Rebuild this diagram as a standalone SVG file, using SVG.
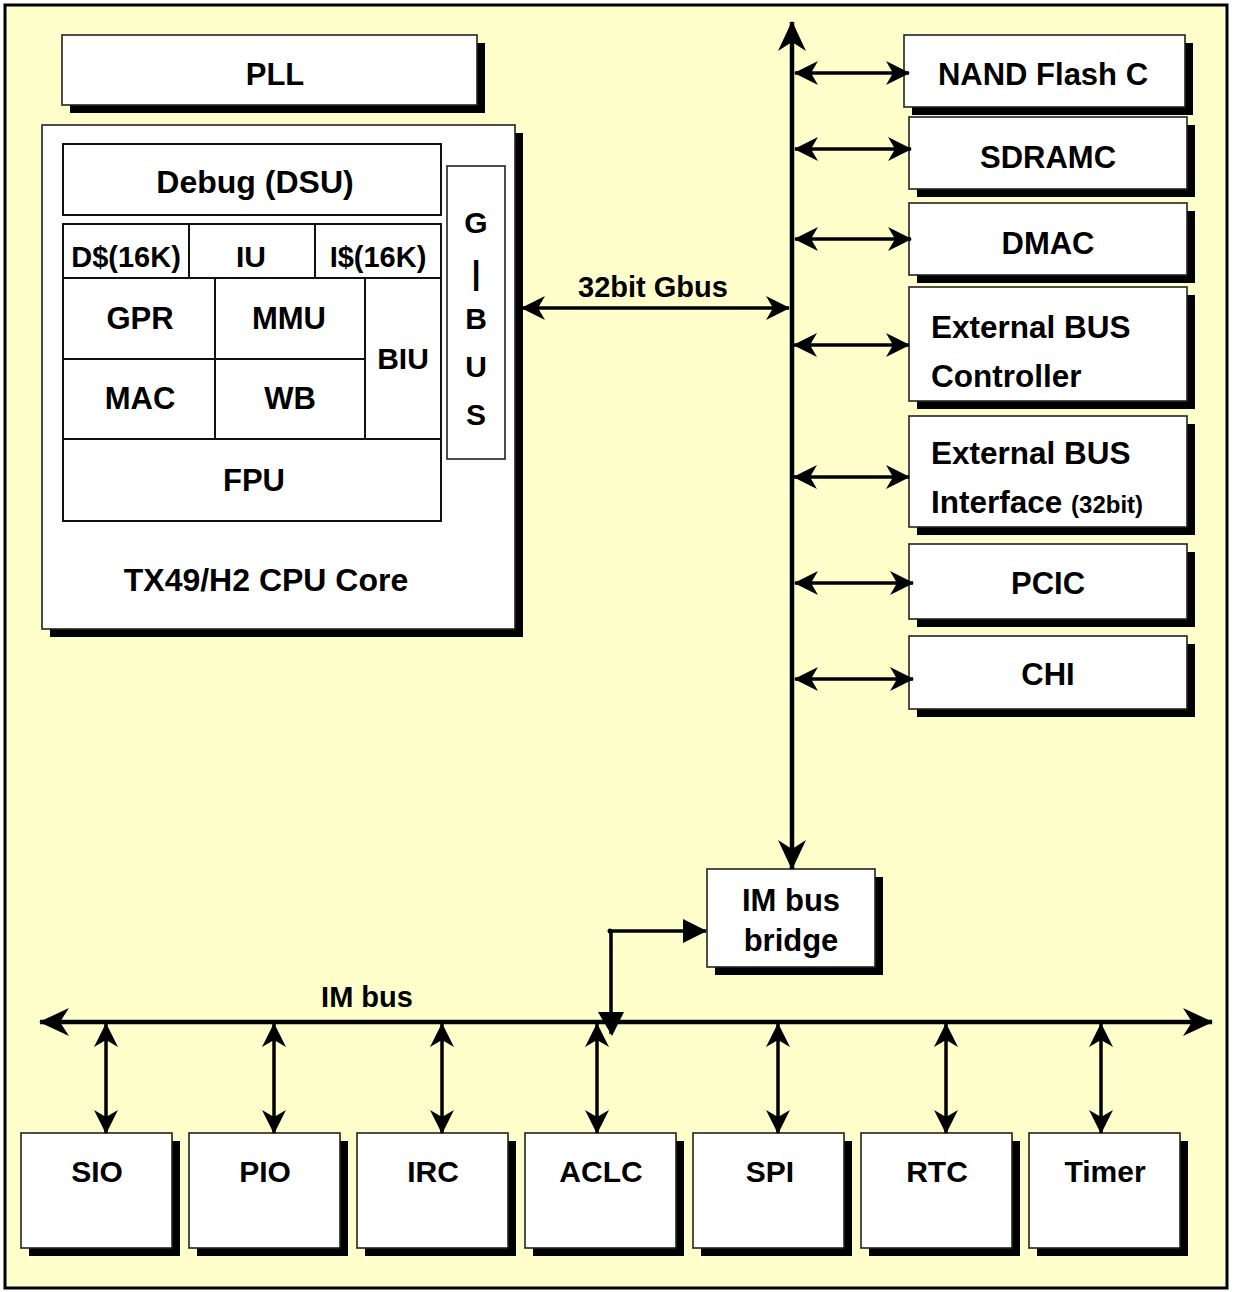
<svg xmlns="http://www.w3.org/2000/svg" width="1233" height="1292" viewBox="0 0 1233 1292">
<defs>
<style>
.box{fill:#fff;stroke:#222;stroke-width:1.6}
.cell{fill:#fff;stroke:#111;stroke-width:2}
.sh{fill:#000}
text{font-family:"Liberation Sans",Arial,Helvetica,sans-serif;font-weight:bold;fill:#000}
.c{text-anchor:middle}
.ln{stroke:#000;fill:none}
</style>
<marker id="st" viewBox="0 0 24 24" refX="23" refY="12" markerWidth="24" markerHeight="24" markerUnits="userSpaceOnUse" orient="auto-start-reverse">
<path d="M0,0 L24,12 L0,24 L7,12 Z" fill="#000"/>
</marker>
<marker id="stL" viewBox="0 0 30 28" refX="29" refY="14" markerWidth="30" markerHeight="28" markerUnits="userSpaceOnUse" orient="auto-start-reverse">
<path d="M0,0 L30,14 L0,28 L9,14 Z" fill="#000"/>
</marker>
<marker id="tri" viewBox="0 0 24 24" refX="23" refY="12" markerWidth="24" markerHeight="24" markerUnits="userSpaceOnUse" orient="auto">
<path d="M0,0 L24,12 L0,24 Z" fill="#000"/>
</marker>
</defs>
<rect x="5" y="5" width="1222" height="1283" fill="#FFFFCC" stroke="#000" stroke-width="3"/>

<g id="pll">
<rect class="sh" x="70" y="43" width="415" height="70"/>
<rect class="box" x="62" y="35" width="415" height="70"/>
<text class="c" x="275" y="85" font-size="31">PLL</text>
</g>

<g id="cpu-core">
<rect class="sh" x="50" y="133" width="473" height="504"/>
<rect class="box" x="42" y="125" width="473" height="504"/>
<text class="c" x="266" y="591" font-size="32">TX49/H2 CPU Core</text>
</g>
<g id="debug">
<rect class="cell" x="63" y="144" width="378" height="71"/>
<text class="c" x="255" y="193" font-size="32">Debug (DSU)</text>
</g>
<g id="dcache">
<rect class="cell" x="63" y="224" width="126" height="54"/>
<text class="c" x="126" y="267" font-size="29">D$(16K)</text>
</g>
<g id="iu">
<rect class="cell" x="189" y="224" width="126" height="54"/>
<text class="c" x="251" y="267" font-size="30">IU</text>
</g>
<g id="icache">
<rect class="cell" x="315" y="224" width="126" height="54"/>
<text class="c" x="378" y="267" font-size="29">I$(16K)</text>
</g>
<g id="gpr">
<rect class="cell" x="63" y="278" width="152" height="81"/>
<text class="c" x="140" y="329" font-size="31">GPR</text>
</g>
<g id="mmu">
<rect class="cell" x="215" y="278" width="150" height="81"/>
<text class="c" x="289" y="329" font-size="31">MMU</text>
</g>
<g id="biu">
<rect class="cell" x="365" y="278" width="76" height="161"/>
<text class="c" x="403" y="369" font-size="30">BIU</text>
</g>
<g id="mac">
<rect class="cell" x="63" y="359" width="152" height="80"/>
<text class="c" x="140" y="409" font-size="31">MAC</text>
</g>
<g id="wb">
<rect class="cell" x="215" y="359" width="150" height="80"/>
<text class="c" x="290" y="409" font-size="31">WB</text>
</g>
<g id="fpu">
<rect class="cell" x="63" y="439" width="378" height="82"/>
<text class="c" x="254" y="491" font-size="31">FPU</text>
</g>
<g id="gbus">
<rect class="box" x="447" y="166" width="58" height="293"/>
<text class="c" x="476" y="233" font-size="30">G</text>
<text class="c" x="476" y="284" font-size="33">|</text>
<text class="c" x="476" y="329" font-size="30">B</text>
<text class="c" x="476" y="377" font-size="30">U</text>
<text class="c" x="476" y="425" font-size="30">S</text>
</g>

<g id="nand">
<rect class="sh" x="912" y="43" width="281" height="72"/>
<rect class="box" x="904" y="35" width="281" height="72"/>
<text class="c" x="1043" y="85" font-size="31">NAND Flash C</text>
</g>
<g id="sdramc">
<rect class="sh" x="917" y="125" width="278" height="72"/>
<rect class="box" x="909" y="117" width="278" height="72"/>
<text class="c" x="1048" y="168" font-size="31">SDRAMC</text>
</g>
<g id="dmac">
<rect class="sh" x="917" y="211" width="278" height="72"/>
<rect class="box" x="909" y="203" width="278" height="72"/>
<text class="c" x="1048" y="254" font-size="31">DMAC</text>
</g>
<g id="ebc">
<rect class="sh" x="917" y="295" width="278" height="114"/>
<rect class="box" x="909" y="287" width="278" height="114"/>
<text x="931" y="338" font-size="31.5">External BUS</text>
<text x="931" y="387" font-size="31.5">Controller</text>
</g>
<g id="ebi">
<rect class="sh" x="917" y="424" width="278" height="111"/>
<rect class="box" x="909" y="416" width="278" height="111"/>
<text x="931" y="464" font-size="31.5">External BUS</text>
<text x="931" y="513" font-size="31.5">Interface <tspan font-size="24">(32bit)</tspan></text>
</g>
<g id="pcic">
<rect class="sh" x="917" y="552" width="278" height="75"/>
<rect class="box" x="909" y="544" width="278" height="75"/>
<text class="c" x="1048" y="594" font-size="31">PCIC</text>
</g>
<g id="chi">
<rect class="sh" x="917" y="644" width="278" height="73"/>
<rect class="box" x="909" y="636" width="278" height="73"/>
<text class="c" x="1048" y="685" font-size="31">CHI</text>
</g>

<g id="im-bridge">
<rect class="sh" x="715" y="877" width="168" height="98"/>
<rect class="box" x="707" y="869" width="168" height="98"/>
<text class="c" x="791" y="911" font-size="31">IM bus</text>
<text class="c" x="791" y="951" font-size="31">bridge</text>
</g>

<g id="sio">
<rect class="sh" x="29" y="1141" width="151" height="115"/>
<rect class="box" x="21" y="1133" width="151" height="115"/>
<text class="c" x="97" y="1182" font-size="30">SIO</text>
</g>
<g id="pio">
<rect class="sh" x="197" y="1141" width="151" height="115"/>
<rect class="box" x="189" y="1133" width="151" height="115"/>
<text class="c" x="265" y="1182" font-size="30">PIO</text>
</g>
<g id="irc">
<rect class="sh" x="365" y="1141" width="151" height="115"/>
<rect class="box" x="357" y="1133" width="151" height="115"/>
<text class="c" x="433" y="1182" font-size="30">IRC</text>
</g>
<g id="aclc">
<rect class="sh" x="533" y="1141" width="151" height="115"/>
<rect class="box" x="525" y="1133" width="151" height="115"/>
<text class="c" x="601" y="1182" font-size="30">ACLC</text>
</g>
<g id="spi">
<rect class="sh" x="701" y="1141" width="151" height="115"/>
<rect class="box" x="693" y="1133" width="151" height="115"/>
<text class="c" x="770" y="1182" font-size="30">SPI</text>
</g>
<g id="rtc">
<rect class="sh" x="869" y="1141" width="151" height="115"/>
<rect class="box" x="861" y="1133" width="151" height="115"/>
<text class="c" x="937" y="1182" font-size="30">RTC</text>
</g>
<g id="timer">
<rect class="sh" x="1037" y="1141" width="151" height="115"/>
<rect class="box" x="1029" y="1133" width="151" height="115"/>
<text class="c" x="1105" y="1182" font-size="30">Timer</text>
</g>

<g id="connectors">
<line class="ln" x1="792" y1="22" x2="792" y2="869" stroke-width="4.5" marker-start="url(#stL)" marker-end="url(#stL)"/>
<line class="ln" x1="522" y1="308" x2="789" y2="308" stroke-width="3.5" marker-start="url(#st)" marker-end="url(#st)"/>
<text class="c" x="653" y="297" font-size="29">32bit Gbus</text>
<line class="ln" x1="795" y1="73" x2="909" y2="73" stroke-width="3.5" marker-start="url(#st)" marker-end="url(#st)"/>
<line class="ln" x1="795" y1="149" x2="911" y2="149" stroke-width="3.5" marker-start="url(#st)" marker-end="url(#st)"/>
<line class="ln" x1="795" y1="239" x2="911" y2="239" stroke-width="3.5" marker-start="url(#st)" marker-end="url(#st)"/>
<line class="ln" x1="794" y1="345" x2="909" y2="345" stroke-width="3.5" marker-start="url(#st)" marker-end="url(#st)"/>
<line class="ln" x1="794" y1="477" x2="909" y2="477" stroke-width="3.5" marker-start="url(#st)" marker-end="url(#st)"/>
<line class="ln" x1="795" y1="583" x2="913" y2="583" stroke-width="3.5" marker-start="url(#st)" marker-end="url(#st)"/>
<line class="ln" x1="795" y1="679" x2="913" y2="679" stroke-width="3.5" marker-start="url(#st)" marker-end="url(#st)"/>

<line class="ln" x1="40" y1="1022" x2="1212" y2="1022" stroke-width="4.5" marker-start="url(#stL)" marker-end="url(#stL)"/>
<text class="c" x="367" y="1007" font-size="29">IM bus</text>

<path class="ln" d="M611,1034 L611,931 L706,931" stroke-width="3.5" marker-end="url(#tri)"/>
<path d="M598,1012 L624,1012 L612,1036 Z" fill="#000"/>
<circle cx="610" cy="931" r="2.5" fill="#000"/>

<line class="ln" x1="106" y1="1024" x2="106" y2="1133" stroke-width="3.5" marker-start="url(#st)" marker-end="url(#st)"/>
<line class="ln" x1="274" y1="1024" x2="274" y2="1133" stroke-width="3.5" marker-start="url(#st)" marker-end="url(#st)"/>
<line class="ln" x1="442" y1="1024" x2="442" y2="1133" stroke-width="3.5" marker-start="url(#st)" marker-end="url(#st)"/>
<line class="ln" x1="597" y1="1024" x2="597" y2="1133" stroke-width="3.5" marker-start="url(#st)" marker-end="url(#st)"/>
<line class="ln" x1="778" y1="1024" x2="778" y2="1133" stroke-width="3.5" marker-start="url(#st)" marker-end="url(#st)"/>
<line class="ln" x1="946" y1="1024" x2="946" y2="1133" stroke-width="3.5" marker-start="url(#st)" marker-end="url(#st)"/>
<line class="ln" x1="1101" y1="1024" x2="1101" y2="1133" stroke-width="3.5" marker-start="url(#st)" marker-end="url(#st)"/>
</g>
</svg>
